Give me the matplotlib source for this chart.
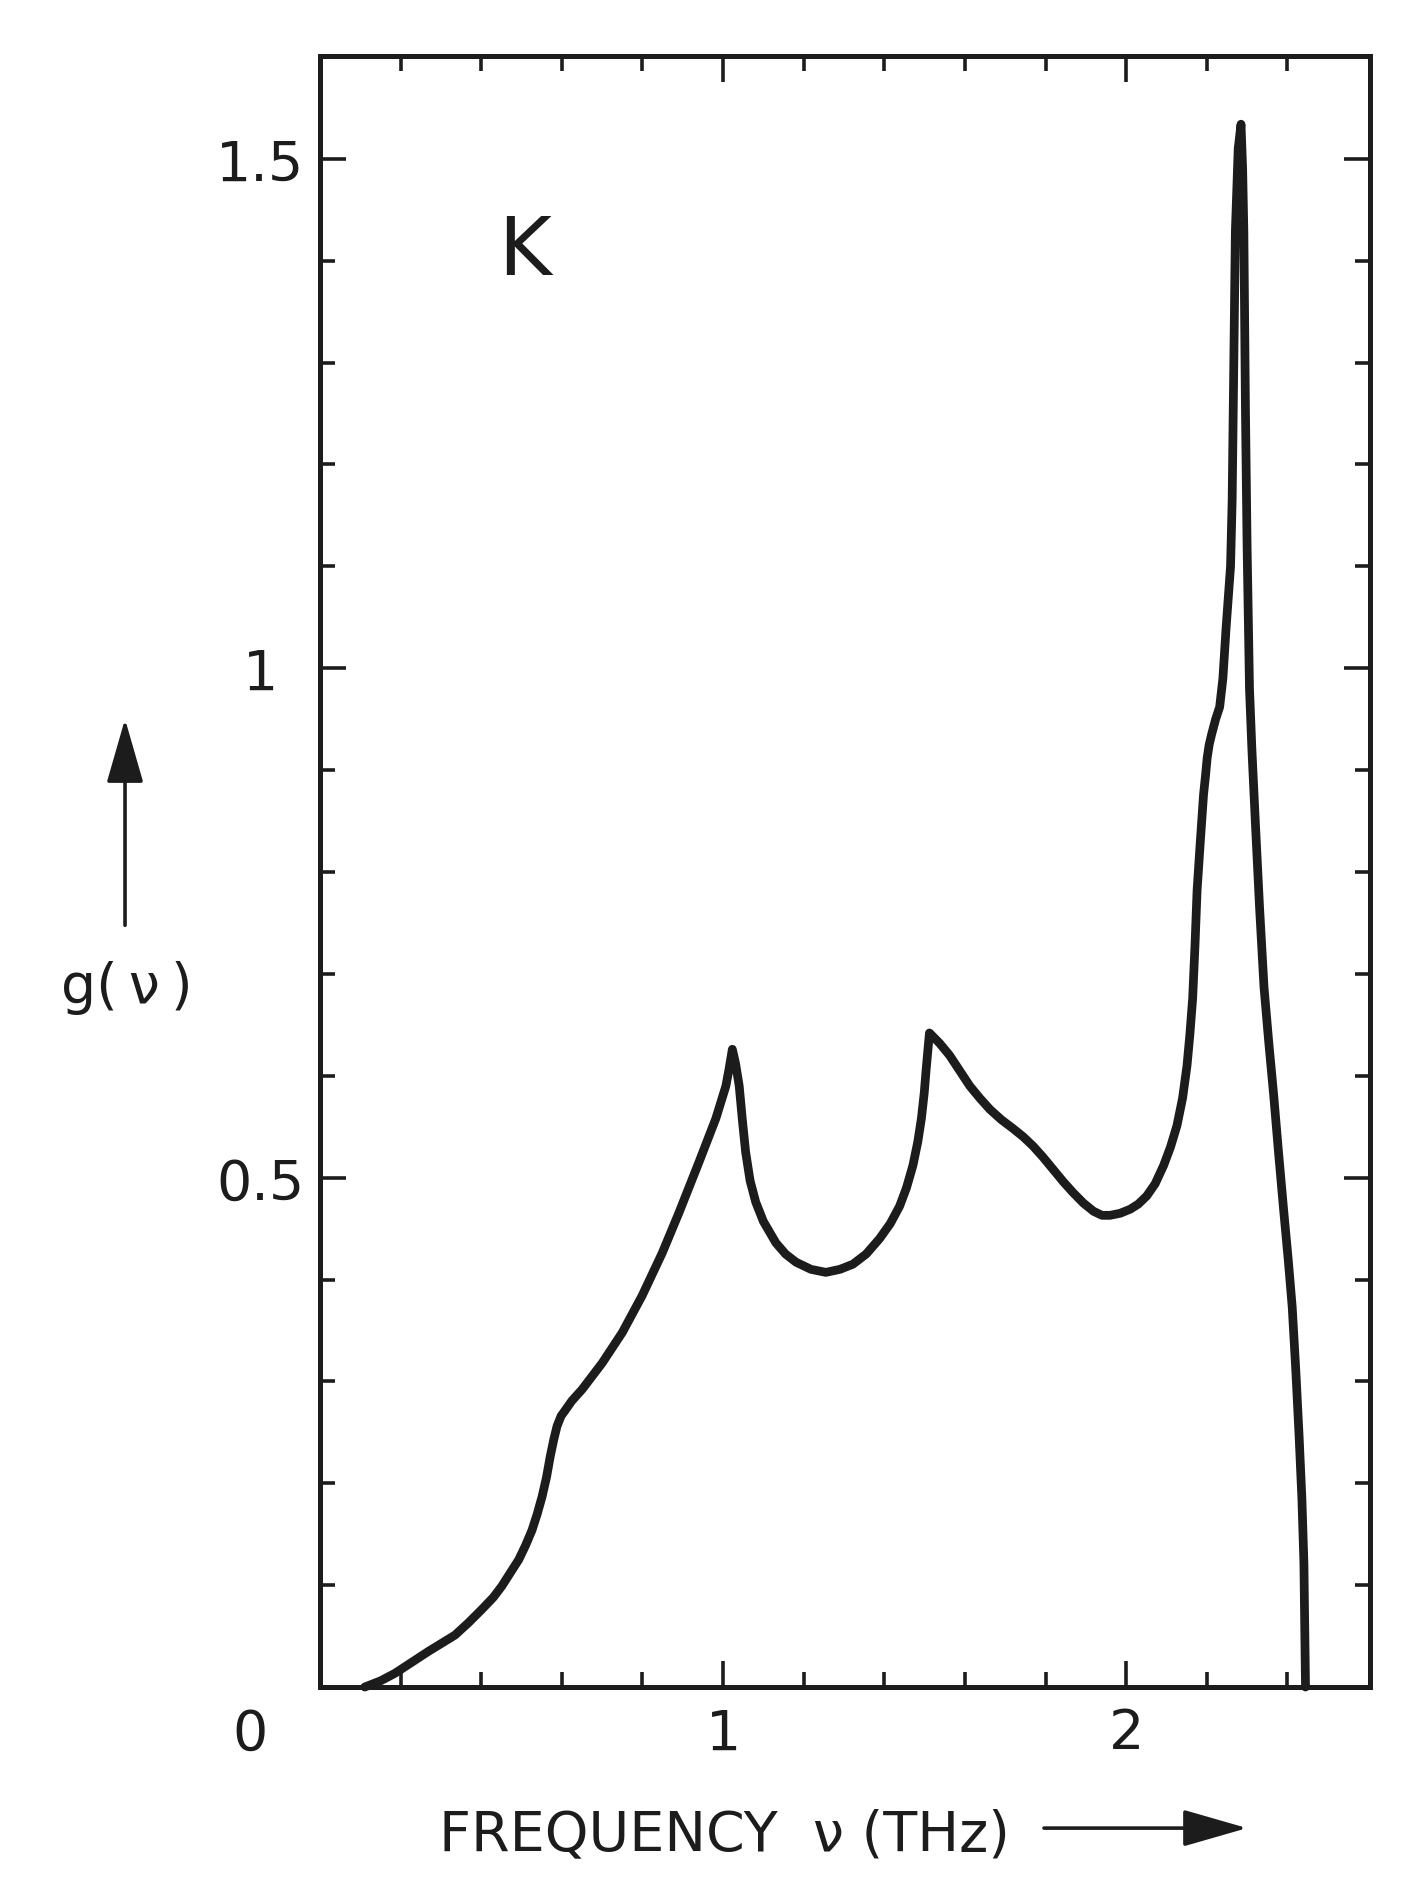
import numpy as np
import matplotlib
matplotlib.use("Agg")
import matplotlib.pyplot as plt
from matplotlib.ticker import FixedLocator

# phonon density of states of potassium
freq_thz = [0.111, 0.150, 0.186, 0.269, 0.335, 0.368, 0.401, 0.430, 0.451, 0.493,
            0.510, 0.526, 0.539, 0.551, 0.562, 0.571, 0.580, 0.588, 0.598, 0.609,
            0.625, 0.650, 0.700, 0.750, 0.799, 0.849, 0.891, 0.940, 0.982, 1.007,
            1.015, 1.023, 1.031, 1.040, 1.048, 1.056, 1.067, 1.081, 1.100, 1.131,
            1.155, 1.181, 1.218, 1.255, 1.290, 1.322, 1.355, 1.388, 1.415, 1.438,
            1.455, 1.471, 1.483, 1.492, 1.499, 1.504, 1.512, 1.537, 1.562, 1.587,
            1.612, 1.637, 1.662, 1.690, 1.720, 1.745, 1.769, 1.794, 1.819, 1.844,
            1.869, 1.894, 1.919, 1.940, 1.960, 1.985, 2.010, 2.030, 2.051, 2.072,
            2.093, 2.110, 2.126, 2.140, 2.151, 2.158, 2.165, 2.171, 2.176, 2.184,
            2.192, 2.197, 2.201, 2.206, 2.212, 2.222, 2.232, 2.240, 2.248, 2.259,
            2.263, 2.267, 2.271, 2.278, 2.285, 2.289, 2.292, 2.296, 2.300, 2.306,
            2.312, 2.321, 2.331, 2.342, 2.354, 2.366, 2.378, 2.391, 2.402, 2.412,
            2.421, 2.429, 2.436, 2.441, 2.445]
g_nu = [0.000, 0.006, 0.0135, 0.035, 0.051, 0.063, 0.076, 0.088, 0.099, 0.125,
        0.139, 0.154, 0.170, 0.187, 0.206, 0.226, 0.243, 0.256, 0.266, 0.272,
        0.281, 0.292, 0.318, 0.348, 0.384, 0.426, 0.466, 0.515, 0.558, 0.590,
        0.607, 0.626, 0.612, 0.590, 0.556, 0.525, 0.497, 0.476, 0.457, 0.436,
        0.425, 0.417, 0.410, 0.407, 0.410, 0.415, 0.425, 0.440, 0.455, 0.472,
        0.490, 0.512, 0.535, 0.558, 0.583, 0.607, 0.642, 0.632, 0.620, 0.605,
        0.590, 0.578, 0.567, 0.557, 0.548, 0.540, 0.531, 0.520, 0.508, 0.496,
        0.485, 0.475, 0.467, 0.463, 0.463, 0.465, 0.469, 0.474, 0.482, 0.494,
        0.512, 0.530, 0.551, 0.578, 0.610, 0.640, 0.676, 0.730, 0.782, 0.830,
        0.876, 0.895, 0.912, 0.925, 0.935, 0.950, 0.962, 0.990, 1.040, 1.100,
        1.165, 1.297, 1.429, 1.510, 1.534, 1.490, 1.429, 1.253, 1.121, 0.980,
        0.920, 0.845, 0.765, 0.687, 0.632, 0.581, 0.525, 0.467, 0.420, 0.373,
        0.310, 0.247, 0.185, 0.122, 0.000]

x_major = [1, 2]
x_labels = ["1", "2"]
y_major = [0.5, 1.0, 1.5]
y_labels = ["0.5", "1", "1.5"]

ink = "#1c1c1c"
fs = 40

fig = plt.figure(figsize=(14.06, 18.99), dpi=100)
fig.patch.set_facecolor("white")
ax = fig.add_axes([0.2276, 0.1111, 0.7468, 0.8589])

ax.plot(freq_thz, g_nu, color=ink, lw=6.3, solid_joinstyle="round",
        solid_capstyle="round", clip_on=False)

ax.set_xlim(0, 2.605)
ax.set_ylim(0, 1.601)

for side in ax.spines.values():
    side.set_linewidth(3.6)
    side.set_color(ink)

ax.set_xticks(x_major)
ax.set_xticklabels(x_labels)
ax.xaxis.set_minor_locator(FixedLocator(np.round(np.arange(1, 13) * 0.2, 1)))
ax.set_yticks(y_major)
ax.set_yticklabels(y_labels, ha="center")
ax.yaxis.set_minor_locator(FixedLocator(np.round(np.arange(1, 16) * 0.1, 1)))

ax.tick_params(which="both", direction="in", top=True, right=True,
               color=ink, width=2.6, labelsize=fs, labelcolor=ink)
ax.tick_params(which="major", length=18.5)
ax.tick_params(which="minor", length=10.5)
ax.tick_params(axis="x", which="major", pad=14)
ax.tick_params(axis="y", which="major", pad=43)

# origin label sits diagonally off the corner
ax.text(-0.174, -0.046, "0", fontsize=fs, color=ink, ha="center", va="center",
        clip_on=False)

ax.text(0.195, 0.880, "K", transform=ax.transAxes, fontsize=58, color=ink,
        ha="center", va="center")

# axis titles with arrows pointing along increasing direction
ax.text(-0.1838, 0.429, "g(\u2009ν\u2009)", transform=ax.transAxes, fontsize=fs,
        color=ink, ha="center", va="center")
ax.annotate("", xy=(-0.1857, 0.5935), xytext=(-0.1857, 0.467),
            xycoords="axes fraction",
            arrowprops=dict(arrowstyle="-|>,head_length=40,head_width=11.5",
                            mutation_scale=1, lw=2.6, color=ink,
                            shrinkA=0, shrinkB=0))

ax.text(0.3848, -0.090, "FREQUENCY  ν (THz)", transform=ax.transAxes,
        fontsize=fs, color=ink, ha="center", va="center")
ax.annotate("", xy=(0.8829, -0.0865), xytext=(0.6895, -0.0865),
            xycoords="axes fraction",
            arrowprops=dict(arrowstyle="-|>,head_length=40,head_width=11.5",
                            mutation_scale=1, lw=2.6, color=ink,
                            shrinkA=0, shrinkB=0))

fig.savefig("out.png", dpi=100, facecolor="white")
